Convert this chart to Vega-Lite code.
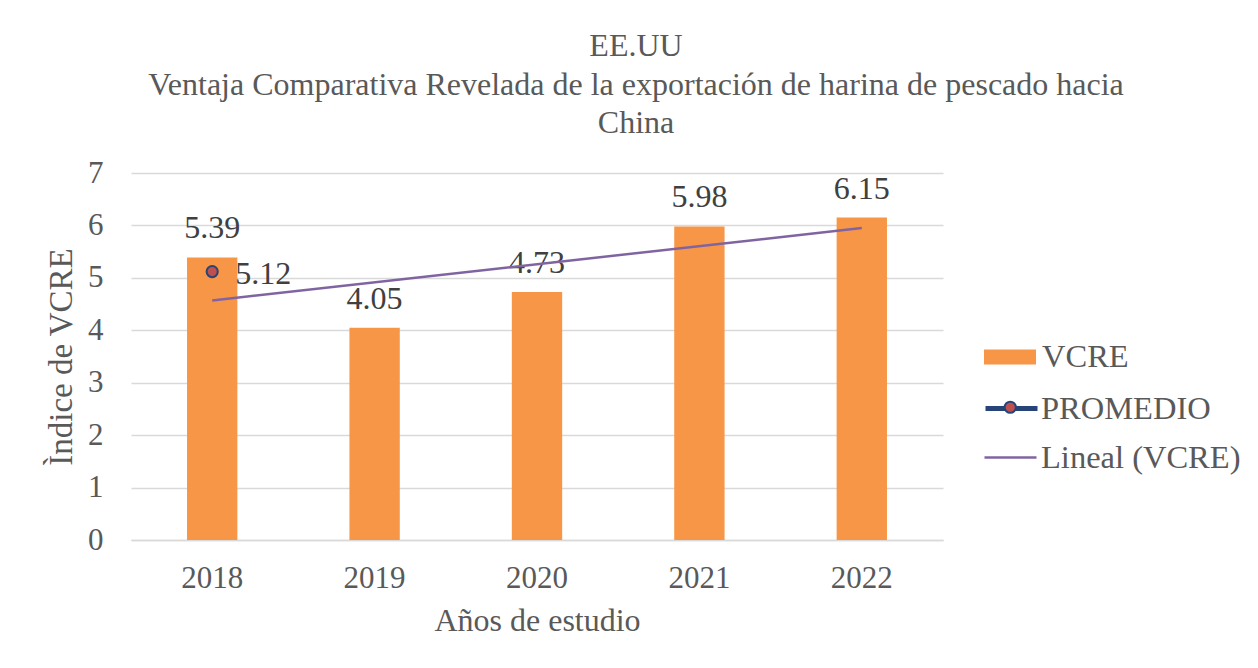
{
  "$schema": "https://vega.github.io/schema/vega-lite/v6.json",
  "width": 812,
  "height": 367,
  "autosize": {"type": "none"},
  "padding": {"left": 131, "top": 173, "right": 315, "bottom": 128},
  "background": "white",
  "title": {
    "text": ["EE.UU", "Ventaja Comparativa Revelada de la exportación de harina de pescado hacia", "China"],
    "font": "Liberation Serif",
    "fontSize": 32,
    "fontWeight": "normal",
    "color": "#595959",
    "lineHeight": 38.5,
    "anchor": "middle",
    "frame": "group",
    "dx": 99,
    "offset": 17
  },
  "config": {
    "font": "Liberation Serif",
    "view": {"stroke": null},
    "axis": {
      "labelFont": "Liberation Serif",
      "labelFontSize": 31,
      "labelColor": "#595959",
      "titleFont": "Liberation Serif",
      "titleFontSize": 32,
      "titleFontWeight": "normal",
      "titleColor": "#595959",
      "ticks": false
    },
    "legend": {
      "labelFont": "Liberation Serif",
      "labelFontSize": 32.5,
      "labelColor": "#595959",
      "padding": 0,
      "labelOffset": 6,
      "labelLimit": 400
    }
  },
  "encoding": {
    "x": {
      "field": "anio",
      "type": "ordinal",
      "scale": {"paddingInner": 0.69, "paddingOuter": 0.345},
      "axis": {
        "title": "Años de estudio",
        "labelAngle": 0,
        "labelPadding": 23,
        "titlePadding": 12,
        "domainColor": "#D9D9D9",
        "domainWidth": 1.5,
        "grid": false
      }
    },
    "y": {
      "field": "valor",
      "type": "quantitative",
      "scale": {"domain": [0, 7], "nice": false},
      "axis": {
        "title": "Ìndice de VCRE",
        "titleFontSize": 33,
        "values": [0, 1, 2, 3, 4, 5, 6, 7],
        "domain": false,
        "labelPadding": 28,
        "titlePadding": 9,
        "gridColor": "#D9D9D9",
        "gridWidth": 1.5
      }
    }
  },
  "layer": [
    {
      "data": {"values": [
        {"anio": "2018", "valor": 5.39, "serie": "VCRE"},
        {"anio": "2019", "valor": 4.05, "serie": "VCRE"},
        {"anio": "2020", "valor": 4.73, "serie": "VCRE"},
        {"anio": "2021", "valor": 5.98, "serie": "VCRE"},
        {"anio": "2022", "valor": 6.15, "serie": "VCRE"}
      ]},
      "mark": {"type": "bar"},
      "encoding": {
        "fill": {
          "field": "serie",
          "type": "nominal",
          "scale": {"domain": ["VCRE"], "range": ["#F79646"]},
          "legend": {
            "orient": "none",
            "legendX": 853,
            "legendY": 158,
            "title": null,
            "symbolType": "M-1,-0.29H1V0.29H-1Z",
            "symbolSize": 2704,
            "symbolStrokeWidth": 0
          }
        }
      }
    },
    {
      "data": {"values": [
        {"anio": "2018", "valor": 5.39, "serie": "VCRE"},
        {"anio": "2019", "valor": 4.05, "serie": "VCRE"},
        {"anio": "2020", "valor": 4.73, "serie": "VCRE"},
        {"anio": "2021", "valor": 5.98, "serie": "VCRE"},
        {"anio": "2022", "valor": 6.15, "serie": "VCRE"}
      ]},
      "mark": {"type": "text", "baseline": "alphabetic", "dy": -19, "fontSize": 32, "color": "#404040", "font": "Liberation Serif"},
      "encoding": {
        "text": {"field": "valor", "type": "quantitative", "format": ".2f"}
      }
    },
    {
      "data": {"values": [
        {"anio": "2018", "valor": 4.57, "serie": "Lineal (VCRE)"},
        {"anio": "2022", "valor": 5.95, "serie": "Lineal (VCRE)"}
      ]},
      "mark": {"type": "line", "strokeWidth": 2.5},
      "encoding": {
        "stroke": {
          "field": "serie",
          "type": "nominal",
          "scale": {"domain": ["Lineal (VCRE)"], "range": ["#8064A2"]},
          "legend": {
            "orient": "none",
            "legendX": 852,
            "legendY": 257,
            "title": null,
            "symbolType": "stroke",
            "symbolSize": 2704,
            "symbolStrokeWidth": 2.5,
            "labelOffset": 3
          }
        }
      }
    },
    {
      "data": {"values": [
        {"anio": "2018", "valor": 5.12, "serie": "PROMEDIO"}
      ]},
      "mark": {"type": "line", "stroke": "#264478", "strokeWidth": 5, "strokeCap": "round"},
      "encoding": {
        "strokeDash": {
          "field": "serie",
          "type": "nominal",
          "scale": {"range": [[1, 0]]},
          "legend": {
            "orient": "none",
            "legendX": 852,
            "legendY": 207,
            "title": null,
            "symbolType": "stroke",
            "symbolSize": 2704,
            "symbolStrokeWidth": 5,
            "labelOffset": 1
          }
        }
      }
    },
    {
      "data": {"values": [
        {"anio": "2018", "valor": 5.12, "marcador": "PROMEDIO"}
      ]},
      "mark": {"type": "point", "filled": true, "fill": "#C0504D", "stroke": "#264478", "strokeWidth": 2, "size": 125, "opacity": 1},
      "encoding": {
        "shape": {
          "field": "marcador",
          "type": "nominal",
          "scale": {"range": ["circle"]},
          "legend": {
            "orient": "none",
            "legendX": 863,
            "legendY": 218,
            "title": null,
            "labelExpr": "''",
            "symbolSize": 125,
            "symbolStrokeWidth": 2,
            "zindex": 2
          }
        }
      }
    },
    {
      "data": {"values": [
        {"anio": "2018", "valor": 5.12, "marcador": "PROMEDIO"}
      ]},
      "mark": {"type": "text", "align": "left", "baseline": "alphabetic", "dx": 23, "dy": 12, "fontSize": 32, "color": "#404040", "font": "Liberation Serif"},
      "encoding": {
        "text": {"field": "valor", "type": "quantitative", "format": ".2f"}
      }
    }
  ]
}
